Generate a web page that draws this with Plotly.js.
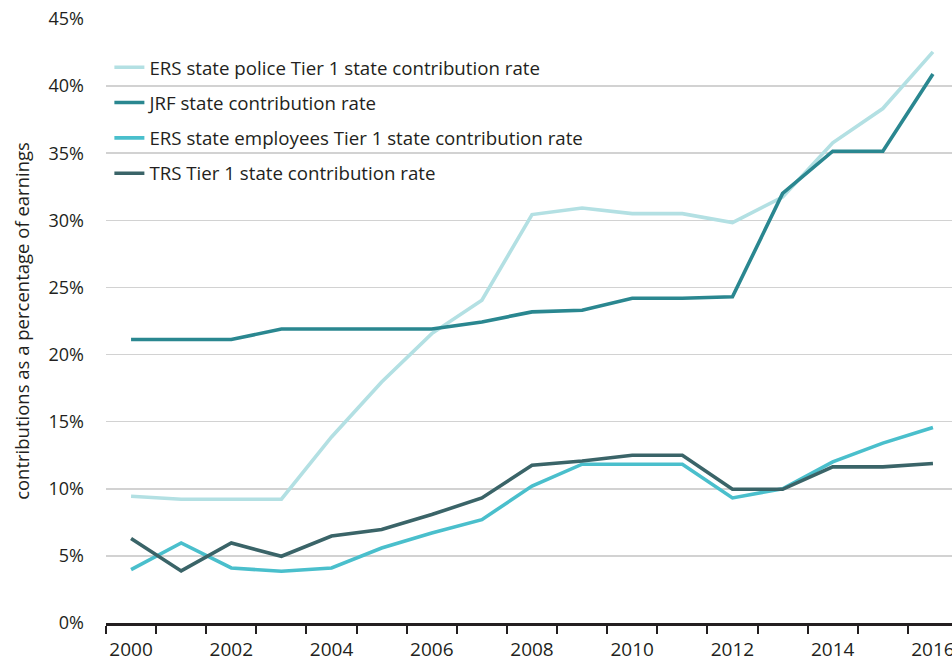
<!DOCTYPE html>
<html>
<head>
<meta charset="utf-8">
<script src="https://cdn.plot.ly/plotly-3.0.1.min.js"></script>
<style>
html,body{margin:0;padding:0;background:#fff;}
#chart{width:952px;height:661px;}
</style>
</head>
<body>
<div id="chart"></div>
<script>
const years = [2000,2001,2002,2003,2004,2005,2006,2007,2008,2009,2010,2011,2012,2013,2014,2015,2016];
const ersPolice = [9.44,9.22,9.22,9.22,13.86,17.96,21.56,24.05,30.43,30.92,30.5,30.5,29.83,31.74,35.77,38.33,42.55];
const jrf = [21.12,21.12,21.12,21.9,21.9,21.9,21.9,22.43,23.18,23.3,24.2,24.2,24.3,32.0,35.15,35.15,40.9];
const ersEmployees = [3.98,5.96,4.1,3.85,4.1,5.59,6.71,7.7,10.2,11.83,11.83,11.83,9.32,10.0,12.0,13.4,14.56];
const trs = [6.29,3.88,5.96,4.97,6.48,6.96,8.08,9.32,11.75,12.07,12.5,12.5,9.96,9.96,11.63,11.63,11.88];
const seriesNames = [
  'ERS state police Tier 1 state contribution rate',
  'JRF state contribution rate',
  'ERS state employees Tier 1 state contribution rate',
  'TRS Tier 1 state contribution rate'
];
const seriesColors = ['#b3e0e3','#2a8790','#4abfcc','#3a6468'];
const xTickVals = [2000,2002,2004,2006,2008,2010,2012,2014,2016];
const yTickVals = [0,5,10,15,20,25,30,35,40,45];
const yTickText = ['0%','5%','10%','15%','20%','25%','30%','35%','40%','45%'];

const seriesData = [ersPolice, jrf, ersEmployees, trs];
const traces = seriesData.map((vals, i) => ({
  type: 'scatter',
  mode: 'lines',
  x: years,
  y: vals,
  name: seriesNames[i],
  legendgroup: 'g' + i,
  legendrank: i + 1,
  line: {color: seriesColors[i], width: 3.6},
  hoverinfo: 'skip'
}));
// draw order: light first, then others, JRF on top
const ordered = [traces[0], traces[2], traces[3], traces[1]];

const font = '"Open Sans", Lato, sans-serif';
const layout = {
  width: 952,
  height: 661,
  margin: {l: 105.5, r: 0, t: 19, b: 38.3},
  paper_bgcolor: '#ffffff',
  plot_bgcolor: '#ffffff',
  font: {family: font, color: '#231f20', size: 18},
  showlegend: true,
  legend: {
    x: 0.004, xanchor: 'left',
    y: 0.951, yanchor: 'top',
    bgcolor: 'rgba(0,0,0,0)',
    traceorder: 'grouped',
    tracegroupgap: 8,
    font: {family: font, size: 18.7, color: '#231f20'}
  },
  xaxis: {
    range: [1999.5, 2016.38],
    tickmode: 'array',
    tickvals: xTickVals,
    ticktext: xTickVals.map(String),
    ticks: '',
    tickfont: {family: font, size: 19, color: '#231f20'},
    ticklabelstandoff: 8,
    ticklabeloverflow: 'allow',
    showgrid: false,
    zeroline: false,
    showline: true,
    linecolor: '#231f20',
    linewidth: 2.5,
    minor: {
      tickmode: 'linear',
      tick0: 1999.5,
      dtick: 1,
      ticks: 'outside',
      ticklen: 8,
      tickwidth: 2,
      tickcolor: '#231f20',
      showgrid: false
    },
    fixedrange: true
  },
  yaxis: {
    range: [0, 45],
    tickmode: 'array',
    tickvals: yTickVals,
    ticktext: yTickText,
    ticks: '',
    tickfont: {family: font, size: 18, color: '#231f20'},
    ticklabelstandoff: 21,
    showgrid: true,
    gridcolor: '#d2d2d2',
    gridwidth: 1.5,
    zeroline: false,
    showline: false,
    title: {
      text: 'contributions as a percentage of earnings',
      font: {family: font, size: 18.5, color: '#231f20'},
      standoff: 14
    },
    automargin: false,
    fixedrange: true
  }
};

Plotly.newPlot('chart', ordered, layout, {displayModeBar: false, staticPlot: true});
</script>
</body>
</html>
